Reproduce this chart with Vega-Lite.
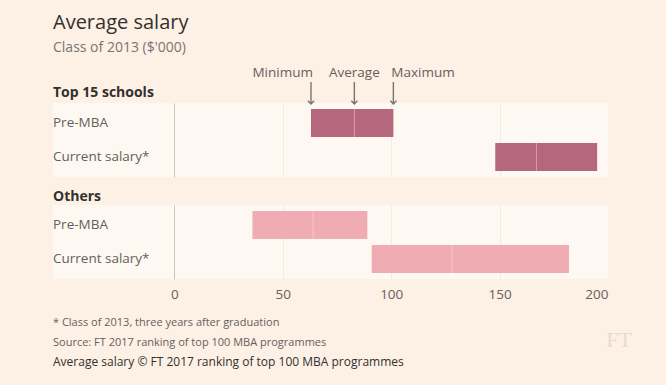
{
  "$schema": "https://vega.github.io/schema/vega-lite/v6.json",
  "background": "#fdf0e5",
  "padding": {"left": 53, "right": 36, "top": 12, "bottom": 8},
  "title": {
    "text": "Average salary",
    "subtitle": "Class of 2013 ($'000)",
    "anchor": "start",
    "font": "Open Sans",
    "fontSize": 20,
    "fontWeight": "normal",
    "color": "#33302e",
    "subtitleFont": "Open Sans",
    "subtitleFontSize": 14,
    "subtitleColor": "#7a7470",
    "subtitlePadding": 8,
    "offset": 11
  },
  "config": {
    "font": "Open Sans",
    "view": {"stroke": null},
    "concat": {"spacing": 28}
  },
  "datasets": {
    "bars": [
      {"group": "Top 15 schools", "row": "Pre-MBA", "min": 63, "avg": 83, "max": 101},
      {"group": "Top 15 schools", "row": "Current salary*", "min": 148, "avg": 167, "max": 195},
      {"group": "Others", "row": "Pre-MBA", "min": 36, "avg": 64, "max": 89},
      {"group": "Others", "row": "Current salary*", "min": 91, "avg": 128, "max": 182}
    ],
    "notes": [
      {"line": 1, "text": "* Class of 2013, three years after graduation"},
      {"line": 2, "text": "Source: FT 2017 ranking of top 100 MBA programmes"},
      {"line": 3, "text": "Average salary © FT 2017 ranking of top 100 MBA programmes"}
    ]
  },
  "bounds": "flush",
  "vconcat": [
    {
      "width": 555,
      "height": 74,
      "view": {"fill": "#fdf8f1", "stroke": null},
      "data": {"name": "bars"},
      "transform": [{"filter": "datum.group === 'Top 15 schools'"}],
      "layer": [
        {
          "mark": {"type": "bar", "color": "#b5677e"},
          "encoding": {
            "x": {"field": "min", "type": "quantitative", "scale": {"domain": [-56, 200], "nice": false, "zero": false},
              "axis": {"values": [0, 50, 100, 150, 200], "labels": false, "ticks": false, "domain": false, "title": null, "grid": true,
                "gridColor": {"condition": {"test": "datum.value === 0", "value": "#cfc6bd"}, "value": "#f3ebe2"},
                "gridOpacity": {"condition": {"test": "datum.value === 200", "value": 0}, "value": 1}}},
            "x2": {"field": "max"},
            "y": {"field": "row", "type": "nominal", "sort": ["Pre-MBA", "Current salary*"], "axis": null, "scale": {"paddingInner": 0.176, "paddingOuter": 0.176}}
          }
        },
        {
          "mark": {"type": "tick", "color": "#e3a0b3", "thickness": 1, "size": 28, "opacity": 0.9},
          "encoding": {
            "x": {"field": "avg", "type": "quantitative"},
            "y": {"field": "row", "type": "nominal", "sort": ["Pre-MBA", "Current salary*"]}
          }
        },
        {
          "mark": {"type": "text", "align": "left", "baseline": "middle", "fontSize": 13.5, "color": "#66605c"},
          "encoding": {
            "x": {"datum": -56},
            "y": {"field": "row", "type": "nominal", "sort": ["Pre-MBA", "Current salary*"]},
            "text": {"field": "row"}
          }
        },
        {
          "transform": [{"filter": "datum.row === 'Pre-MBA'"}],
          "mark": {"type": "text", "align": "left", "baseline": "middle", "fontSize": 14, "fontWeight": "bold", "color": "#33302e", "yOffset": -30},
          "encoding": {
            "x": {"datum": -56},
            "y": {"field": "row", "type": "nominal", "sort": ["Pre-MBA", "Current salary*"]},
            "text": {"field": "group"}
          }
        },
        {
          "transform": [{"filter": "datum.row === 'Pre-MBA'"}],
          "mark": {"type": "text", "align": "right", "baseline": "middle", "fontSize": 13.5, "color": "#66605c", "yOffset": -50, "dx": 2},
          "encoding": {
            "x": {"field": "min", "type": "quantitative"},
            "y": {"field": "row", "type": "nominal", "sort": ["Pre-MBA", "Current salary*"]},
            "text": {"value": "Minimum"}
          }
        },
        {
          "transform": [{"filter": "datum.row === 'Pre-MBA'"}],
          "mark": {"type": "text", "align": "center", "baseline": "middle", "fontSize": 13.5, "color": "#66605c", "yOffset": -50},
          "encoding": {
            "x": {"field": "avg", "type": "quantitative"},
            "y": {"field": "row", "type": "nominal", "sort": ["Pre-MBA", "Current salary*"]},
            "text": {"value": "Average"}
          }
        },
        {
          "transform": [{"filter": "datum.row === 'Pre-MBA'"}],
          "mark": {"type": "text", "align": "left", "baseline": "middle", "fontSize": 13.5, "color": "#66605c", "yOffset": -50, "dx": -2},
          "encoding": {
            "x": {"field": "max", "type": "quantitative"},
            "y": {"field": "row", "type": "nominal", "sort": ["Pre-MBA", "Current salary*"]},
            "text": {"value": "Maximum"}
          }
        },
        {
          "transform": [
            {"filter": "datum.row === 'Pre-MBA'"},
            {"fold": ["min", "avg", "max"], "as": ["stat", "val"]}
          ],
          "mark": {"type": "point", "shape": "M0,-1L0,0.95M-0.28,0.7L0,1L0.28,0.7", "filled": false, "size": 484, "strokeWidth": 1.4, "color": "#7a7470", "opacity": 1, "yOffset": -30},
          "encoding": {
            "x": {"field": "val", "type": "quantitative"},
            "y": {"field": "row", "type": "nominal", "sort": ["Pre-MBA", "Current salary*"]}
          }
        }
      ]
    },
    {
      "width": 555,
      "height": 74,
      "view": {"fill": "#fdf8f1", "stroke": null},
      "data": {"name": "bars"},
      "transform": [{"filter": "datum.group === 'Others'"}],
      "layer": [
        {
          "mark": {"type": "bar", "color": "#efadb3"},
          "encoding": {
            "x": {"field": "min", "type": "quantitative", "scale": {"domain": [-56, 200], "nice": false, "zero": false},
              "axis": {"values": [0, 50, 100, 150, 200], "ticks": false, "domain": false, "title": null, "grid": true,
                "labelFontSize": 13.5, "labelColor": "#66605c", "labelPadding": 8, "labelFlush": true,
                "gridColor": {"condition": {"test": "datum.value === 0", "value": "#cfc6bd"}, "value": "#f3ebe2"},
                "gridOpacity": {"condition": {"test": "datum.value === 200", "value": 0}, "value": 1}}},
            "x2": {"field": "max"},
            "y": {"field": "row", "type": "nominal", "sort": ["Pre-MBA", "Current salary*"], "axis": null, "scale": {"paddingInner": 0.176, "paddingOuter": 0.176}}
          }
        },
        {
          "mark": {"type": "tick", "color": "#f6cbd0", "thickness": 1, "size": 28, "opacity": 0.9},
          "encoding": {
            "x": {"field": "avg", "type": "quantitative"},
            "y": {"field": "row", "type": "nominal", "sort": ["Pre-MBA", "Current salary*"]}
          }
        },
        {
          "mark": {"type": "text", "align": "left", "baseline": "middle", "fontSize": 13.5, "color": "#66605c"},
          "encoding": {
            "x": {"datum": -56},
            "y": {"field": "row", "type": "nominal", "sort": ["Pre-MBA", "Current salary*"]},
            "text": {"field": "row"}
          }
        },
        {
          "transform": [{"filter": "datum.row === 'Pre-MBA'"}],
          "mark": {"type": "text", "align": "left", "baseline": "middle", "fontSize": 14, "fontWeight": "bold", "color": "#33302e", "yOffset": -28},
          "encoding": {
            "x": {"datum": -56},
            "y": {"field": "row", "type": "nominal", "sort": ["Pre-MBA", "Current salary*"]},
            "text": {"field": "group"}
          }
        }
      ]
    },
    {
      "width": 555,
      "height": 71,
      "data": {"name": "notes"},
      "layer": [
        {
          "transform": [{"filter": "datum.line < 3"}],
          "mark": {"type": "text", "align": "left", "baseline": "middle", "fontSize": 11, "color": "#66605c"},
          "encoding": {
            "x": {"datum": -56, "type": "quantitative", "scale": {"domain": [-56, 200], "nice": false, "zero": false}, "axis": null},
            "y": {"field": "line", "type": "ordinal", "scale": {"type": "point", "padding": 0.82, "domain": [1, 2, 3]}, "axis": null},
            "text": {"field": "text"}
          }
        },
        {
          "transform": [{"filter": "datum.line === 3"}],
          "mark": {"type": "text", "align": "left", "baseline": "middle", "fontSize": 12, "color": "#33302e"},
          "encoding": {
            "x": {"datum": -56, "type": "quantitative"},
            "y": {"field": "line", "type": "ordinal"},
            "text": {"field": "text"}
          }
        },
        {
          "transform": [{"filter": "datum.line === 2"}],
          "mark": {"type": "text", "align": "center", "baseline": "middle", "fontSize": 22, "font": "Liberation Serif", "color": "#eadbcd", "dx": 11, "dy": -3},
          "encoding": {
            "x": {"datum": 200, "type": "quantitative"},
            "y": {"field": "line", "type": "ordinal"},
            "text": {"value": "FT"}
          }
        }
      ]
    }
  ]
}
